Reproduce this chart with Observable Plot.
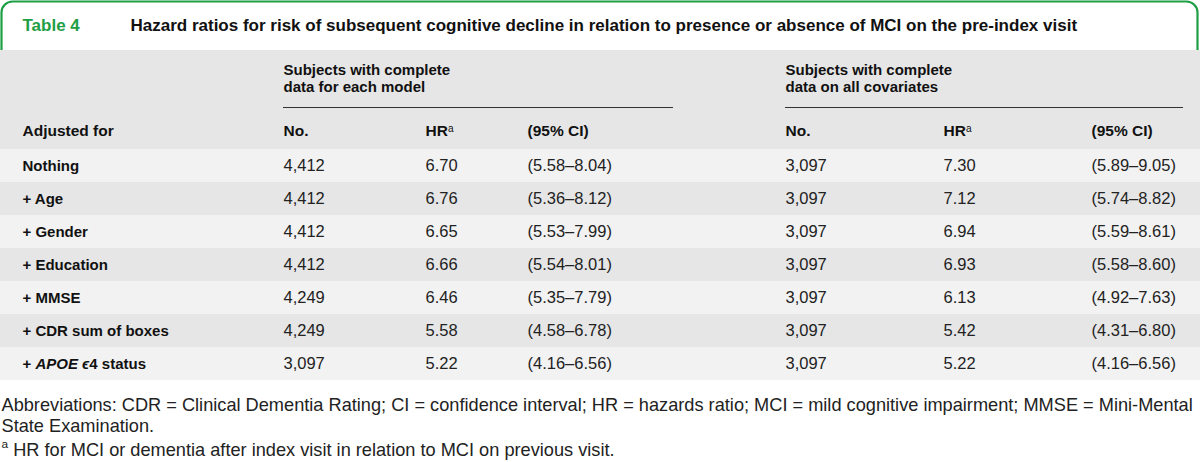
<!DOCTYPE html>
<html><head><meta charset="utf-8">
<script src="https://cdn.jsdelivr.net/npm/d3@7"></script>
<script src="https://cdn.jsdelivr.net/npm/@observablehq/plot@0.6"></script>
<style>
html,body{margin:0;padding:0;background:#fff;}
#chart svg{display:block;}
</style></head><body><div id="chart"></div>
<script>
// ---- data ----
const tableLabel = "Table 4";
const tableTitle = "Hazard ratios for risk of subsequent cognitive decline in relation to presence or absence of MCI on the pre-index visit";
const groupHeaders = ["Subjects with complete\ndata for each model", "Subjects with complete\ndata on all covariates"];
const columnHeaders = ["Adjusted for", "No.", "HRᵃ", "(95% CI)", "No.", "HRᵃ", "(95% CI)"];
const adjustedFor = ["Nothing", "+ Age", "+ Gender", "+ Education", "+ MMSE", "+ CDR sum of boxes", "+ APOE ϵ4 status"];
const nModel = [4412, 4412, 4412, 4412, 4249, 4249, 3097];
const hrModel = [6.70, 6.76, 6.65, 6.66, 6.46, 5.58, 5.22];
const ciLowModel = [5.58, 5.36, 5.53, 5.54, 5.35, 4.58, 4.16];
const ciHighModel = [8.04, 8.12, 7.99, 8.01, 7.79, 6.78, 6.56];
const nAll = [3097, 3097, 3097, 3097, 3097, 3097, 3097];
const hrAll = [7.30, 7.12, 6.94, 6.93, 6.13, 5.42, 5.22];
const ciLowAll = [5.89, 5.74, 5.59, 5.58, 4.92, 4.31, 4.16];
const ciHighAll = [9.05, 8.82, 8.61, 8.60, 7.63, 6.80, 6.56];
const footnotes = [
  "Abbreviations: CDR = Clinical Dementia Rating; CI = confidence interval; HR = hazards ratio; MCI = mild cognitive impairment; MMSE = Mini-Mental",
  "State Examination.",
  "ᵃ HR for MCI or dementia after index visit in relation to MCI on previous visit."
];

// ---- layout ----
const W = 1200, H = 462;
const font = "'Liberation Sans', Arial, Helvetica, sans-serif";
const green = "#1e9e45";
const colX = [22, 283, 425, 527, 785, 943, 1091];
const groupX = [283, 785];
const groupRule = [[283, 673], [785, 1183]];
const headTop = 50, rowTop = 149, rowH = 33;
const headerY = 131;
const footY = [405, 426, 447];

const fmtN = d3.format(",");
const fmt2 = d3.format(".2f");
const ci = (a, b) => `(${fmt2(a)}–${fmt2(b)})`;

const rows = adjustedFor.map((label, i) => ({
  i, label,
  cells: [label, fmtN(nModel[i]), fmt2(hrModel[i]), ci(ciLowModel[i], ciHighModel[i]),
          fmtN(nAll[i]), fmt2(hrAll[i]), ci(ciLowAll[i], ciHighAll[i])]
}));
const rowY = i => rowTop + rowH * i + rowH / 2;

const cellData = [];
rows.forEach(r => r.cells.forEach((t, c) => cellData.push({x: colX[c], y: rowY(r.i), t, c})));

const chart = Plot.plot({
  width: W, height: H,
  margin: 0,
  x: {domain: [0, W], range: [0, W], axis: null},
  y: {domain: [0, H], range: [0, H], axis: null},
  style: {fontFamily: font, background: "#fff", overflow: "visible"},
  marks: [
    // green frame around title
    Plot.rect([{x1: 1.5, x2: W - 2.5, y1: 1.5, y2: 80}], {x1: "x1", x2: "x2", y1: "y1", y2: "y2", fill: "none", stroke: green, strokeWidth: 2.2, rx: 11}),
    // header band
    Plot.rect([{x1: 0, x2: W, y1: headTop, y2: rowTop}], {x1: "x1", x2: "x2", y1: "y1", y2: "y2", fill: "#e6e6e6"}),
    // body rows
    Plot.rect(rows, {x1: 0, x2: W, y1: d => rowTop + rowH * d.i, y2: d => rowTop + rowH * (d.i + 1), fill: d => d.i % 2 ? "#e6e6e6" : "#f2f2f2"}),
    // title
    Plot.text([tableLabel], {x: 22, y: 25, text: d => d, textAnchor: "start", fill: green, fontWeight: "bold", fontSize: 17}),
    Plot.text([tableTitle], {x: 130, y: 25, text: d => d, textAnchor: "start", fill: "#111", fontWeight: "bold", fontSize: 17}),
    // group headers
    Plot.text(groupHeaders, {x: (d, i) => groupX[i], y: 62, text: d => d, textAnchor: "start", lineAnchor: "top", lineHeight: 1.15, fill: "#111", fontWeight: "bold", fontSize: 15}),
    Plot.ruleY(groupRule, {y: 107, x1: d => d[0], x2: d => d[1], stroke: "#333", strokeWidth: 1.2}),
    // column headers
    Plot.text(columnHeaders, {x: (d, i) => colX[i], y: headerY, text: d => d, textAnchor: "start", fill: "#111", fontWeight: "bold", fontSize: 15.5}),
    // cells
    Plot.text(cellData.filter(d => d.c === 0), {x: "x", y: "y", text: "t", textAnchor: "start", fill: "#111", fontWeight: "bold", fontSize: 15}),
    Plot.text(cellData.filter(d => d.c > 0), {x: "x", y: "y", text: "t", textAnchor: "start", fill: "#222", fontSize: 16.5}),
    // footnotes
    Plot.text(footnotes, {x: 1, y: (d, i) => footY[i], text: d => d, textAnchor: "start", fill: "#222", fontSize: 18.2})
  ]
});

// rich text touches: superscripts and italics
d3.select(chart).selectAll("text").each(function() {
  const el = d3.select(this);
  const t = el.text();
  if (t.includes("ᵃ")) {
    const parts = t.split("ᵃ");
    el.text(null);
    el.append("tspan").text(parts[0]);
    el.append("tspan").attr("dy", "-0.45em").attr("font-size", "0.65em").attr("font-weight", "normal").text("a");
    el.append("tspan").attr("dy", "0.45em").text(parts[1]);
  } else if (t.includes("APOE")) {
    el.text(null);
    el.append("tspan").text("+ ");
    el.append("tspan").attr("font-style", "italic").text("APOE ϵ");
    el.append("tspan").text("4 status");
  }
});

document.getElementById("chart").appendChild(chart);
</script>
</body></html>
